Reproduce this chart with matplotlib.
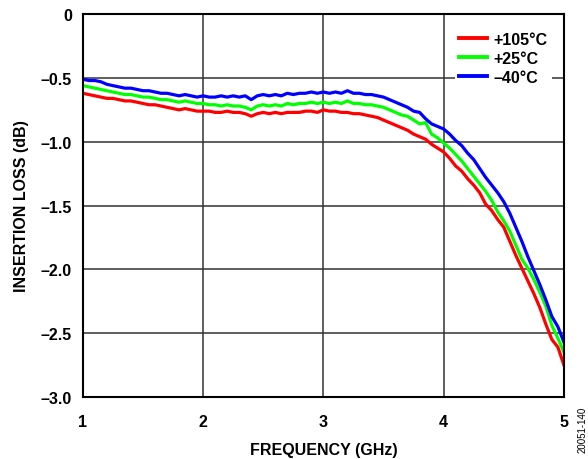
import matplotlib.pyplot as plt

plt.rcParams['font.family'] = ['Liberation Sans', 'DejaVu Sans']
plt.rcParams['font.weight'] = 'bold'

# Frequency (GHz)
freq = [1.00, 1.05, 1.10, 1.15, 1.20, 1.25, 1.30, 1.35, 1.40, 1.45,
        1.50, 1.55, 1.60, 1.65, 1.70, 1.75, 1.80, 1.85, 1.90, 1.95,
        2.00, 2.05, 2.10, 2.15, 2.20, 2.25, 2.30, 2.35, 2.40, 2.45,
        2.50, 2.55, 2.60, 2.65, 2.70, 2.75, 2.80, 2.85, 2.90, 2.95,
        3.00, 3.05, 3.10, 3.15, 3.20, 3.25, 3.30, 3.35, 3.40, 3.45,
        3.50, 3.55, 3.60, 3.65, 3.70, 3.75, 3.80, 3.85, 3.90, 3.95,
        4.00, 4.05, 4.10, 4.15, 4.20, 4.25, 4.30, 4.35, 4.40, 4.45,
        4.50, 4.55, 4.60, 4.65, 4.70, 4.75, 4.80, 4.85, 4.90, 4.95,
        5.00]

# Insertion loss (dB)
loss_105 = [-0.62, -0.63, -0.64, -0.65, -0.66, -0.66, -0.67, -0.68, -0.68, -0.69,
            -0.70, -0.71, -0.71, -0.72, -0.73, -0.74, -0.75, -0.74, -0.75, -0.76,
            -0.76, -0.76, -0.77, -0.77, -0.76, -0.77, -0.77, -0.78, -0.80, -0.78,
            -0.77, -0.78, -0.77, -0.78, -0.77, -0.77, -0.77, -0.76, -0.76, -0.77,
            -0.75, -0.76, -0.76, -0.77, -0.77, -0.78, -0.78, -0.79, -0.80, -0.81,
            -0.83, -0.85, -0.87, -0.89, -0.91, -0.94, -0.96, -0.98, -1.02, -1.05,
            -1.08, -1.13, -1.19, -1.23, -1.29, -1.34, -1.40, -1.49, -1.54, -1.61,
            -1.67, -1.78, -1.89, -1.99, -2.09, -2.19, -2.30, -2.43, -2.55, -2.61,
            -2.75]
loss_25 = [-0.56, -0.57, -0.58, -0.59, -0.60, -0.61, -0.62, -0.63, -0.63, -0.64,
           -0.65, -0.65, -0.66, -0.67, -0.67, -0.68, -0.69, -0.68, -0.69, -0.70,
           -0.70, -0.71, -0.71, -0.72, -0.71, -0.72, -0.72, -0.73, -0.75, -0.72,
           -0.71, -0.72, -0.71, -0.72, -0.70, -0.71, -0.70, -0.70, -0.69, -0.70,
           -0.69, -0.70, -0.69, -0.70, -0.68, -0.70, -0.70, -0.71, -0.71, -0.72,
           -0.73, -0.75, -0.77, -0.79, -0.80, -0.83, -0.86, -0.85, -0.94, -0.97,
           -1.01, -1.05, -1.10, -1.15, -1.21, -1.27, -1.33, -1.39, -1.46, -1.55,
           -1.62, -1.70, -1.81, -1.92, -1.99, -2.08, -2.18, -2.29, -2.44, -2.54,
           -2.65]
loss_m40 = [-0.51, -0.52, -0.52, -0.53, -0.55, -0.56, -0.57, -0.58, -0.58, -0.59,
            -0.60, -0.60, -0.61, -0.62, -0.62, -0.63, -0.64, -0.63, -0.64, -0.65,
            -0.64, -0.65, -0.65, -0.64, -0.65, -0.64, -0.65, -0.64, -0.67, -0.64,
            -0.63, -0.64, -0.63, -0.64, -0.62, -0.63, -0.62, -0.62, -0.61, -0.62,
            -0.61, -0.62, -0.61, -0.62, -0.60, -0.62, -0.62, -0.63, -0.63, -0.64,
            -0.65, -0.67, -0.69, -0.71, -0.73, -0.76, -0.77, -0.82, -0.86, -0.88,
            -0.90, -0.94, -0.99, -1.03, -1.09, -1.14, -1.21, -1.28, -1.34, -1.40,
            -1.47, -1.56, -1.67, -1.78, -1.90, -2.01, -2.12, -2.24, -2.37, -2.45,
            -2.57]

labels = ['+105°C', '+25°C', '–40°C']
colors = ['#ff0000', '#00ff00', '#0000ff']

xticks = [1, 2, 3, 4, 5]
yticks = [0, -0.5, -1.0, -1.5, -2.0, -2.5, -3.0]
ytick_labels = ['0', '–0.5', '–1.0', '–1.5', '–2.0', '–2.5', '–3.0']

fig = plt.figure(figsize=(5.88, 4.6), dpi=100)
ax = fig.add_axes([0.141, 0.135, 0.818, 0.832])

for ys, lab, col in zip([loss_105, loss_25, loss_m40], labels, colors):
    ax.plot(freq, ys, color=col, linewidth=2.3, label=lab)

ax.set_xlim(1, 5)
ax.set_ylim(-3.0, 0)
ax.set_xticks(xticks)
ax.set_yticks(yticks)
ax.set_yticklabels(ytick_labels)
ax.tick_params(length=0, labelsize=11.5)
ax.tick_params(axis='x', pad=12)
ax.tick_params(axis='y', pad=8)
ax.grid(True, color='#333333', linewidth=1.1)
ax.set_axisbelow(True)
for sp in ax.spines.values():
    sp.set_linewidth(1.5)

ax.set_xlabel('FREQUENCY (GHz)', fontsize=11.5, fontweight='bold', labelpad=10)
ax.set_ylabel('INSERTION LOSS (dB)', fontsize=11.5, fontweight='bold', labelpad=8)

leg = ax.legend(loc='upper right', frameon=True, fontsize=11.5, handlelength=1.8,
                borderpad=0.25, labelspacing=0.25, handletextpad=0.4,
                borderaxespad=0, bbox_to_anchor=(0.975, 0.964))
leg.get_frame().set_edgecolor('none')
leg.get_frame().set_facecolor('white')
leg.get_frame().set_alpha(1)
leg.get_frame().set_boxstyle('square', pad=0)
for line in leg.get_lines():
    line.set_linewidth(2.8)
for t in leg.get_texts():
    t.set_fontweight('bold')

fig.text(0.99, 0.065, '20051-140', rotation=90, fontsize=7, fontweight='normal',
         ha='center', va='center')

fig.savefig('out.png', dpi=100)
